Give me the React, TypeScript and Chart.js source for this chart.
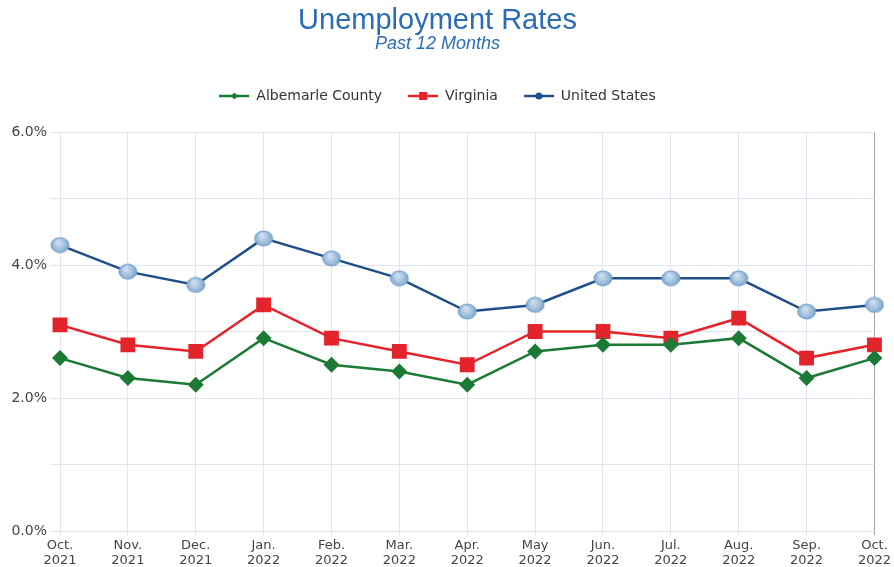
import React, { useEffect, useRef } from 'react';
import { Chart, registerables } from 'chart.js';

Chart.register(...registerables);

const months: string[][] = [
  ['Oct.', '2021'], ['Nov.', '2021'], ['Dec.', '2021'], ['Jan.', '2022'],
  ['Feb.', '2022'], ['Mar.', '2022'], ['Apr.', '2022'], ['May', '2022'],
  ['Jun.', '2022'], ['Jul.', '2022'], ['Aug.', '2022'], ['Sep.', '2022'],
  ['Oct.', '2022'],
];
const albemarle = [2.6, 2.3, 2.2, 2.9, 2.5, 2.4, 2.2, 2.7, 2.8, 2.8, 2.9, 2.3, 2.6];
const virginia = [3.1, 2.8, 2.7, 3.4, 2.9, 2.7, 2.5, 3.0, 3.0, 2.9, 3.2, 2.6, 2.8];
const unitedStates = [4.3, 3.9, 3.7, 4.4, 4.1, 3.8, 3.3, 3.4, 3.8, 3.8, 3.8, 3.3, 3.4];
const seriesNames = ['Albemarle County', 'Virginia', 'United States'];
const yMin = 0;
const yMax = 6;
const yStep = 1;

const GREEN = '#1b7a35';
const RED = '#e3242b';
const BLUE = '#1f4f8a';
const TITLE_BLUE = '#2a6cb6';
const TEXT = '#444444';
const GRID = '#e3e3f1';

function makeBubble(w: number, h: number): HTMLCanvasElement {
  const c = document.createElement('canvas');
  c.width = w + 2;
  c.height = h + 2;
  const ctx = c.getContext('2d')!;
  const cx = c.width / 2;
  const cy = c.height / 2;
  const g = ctx.createRadialGradient(cx - w * 0.1, cy - h * 0.2, 1, cx, cy, w / 2);
  g.addColorStop(0, '#cfdff0');
  g.addColorStop(0.6, '#9fbfdd');
  g.addColorStop(1, '#7aa3ca');
  ctx.beginPath();
  ctx.ellipse(cx, cy, w / 2, h / 2, 0, 0, Math.PI * 2);
  ctx.fillStyle = g;
  ctx.fill();
  ctx.lineWidth = 1;
  ctx.strokeStyle = '#729fc8';
  ctx.stroke();
  return c;
}

function makeLegendIcon(color: string, kind: string): HTMLCanvasElement {
  const c = document.createElement('canvas');
  c.width = 30;
  c.height = 12;
  const ctx = c.getContext('2d')!;
  ctx.strokeStyle = color;
  ctx.lineWidth = 2.5;
  ctx.beginPath();
  ctx.moveTo(0, 6);
  ctx.lineTo(30, 6);
  ctx.stroke();
  ctx.fillStyle = color;
  ctx.beginPath();
  if (kind === 'diamond') {
    ctx.moveTo(15, 2.5);
    ctx.lineTo(18.5, 6);
    ctx.lineTo(15, 9.5);
    ctx.lineTo(11.5, 6);
    ctx.closePath();
  } else if (kind === 'square') {
    ctx.rect(11, 2, 8, 8);
  } else {
    ctx.arc(15, 6, 3.5, 0, Math.PI * 2);
  }
  ctx.fill();
  return c;
}

export default function App() {
  const ref = useRef<HTMLCanvasElement | null>(null);

  useEffect(() => {
    if (!ref.current) return;
    const bubble = makeBubble(18, 15);
    const icons = [
      makeLegendIcon(GREEN, 'diamond'),
      makeLegendIcon(RED, 'square'),
      makeLegendIcon(BLUE, 'circle'),
    ];
    const colors = [GREEN, RED, BLUE];
    const chart = new Chart(ref.current, {
      type: 'line',
      data: {
        labels: months,
        datasets: [
          {
            label: seriesNames[0],
            data: albemarle,
            borderColor: GREEN,
            backgroundColor: GREEN,
            borderWidth: 2.5,
            pointStyle: 'rectRot',
            pointRadius: 8,
            pointBorderWidth: 0,
            pointBackgroundColor: GREEN,
            tension: 0,
          },
          {
            label: seriesNames[1],
            data: virginia,
            borderColor: RED,
            backgroundColor: RED,
            borderWidth: 2.5,
            pointStyle: 'rect',
            pointRadius: 10.5,
            pointBorderWidth: 0,
            pointBackgroundColor: RED,
            tension: 0,
          },
          {
            label: seriesNames[2],
            data: unitedStates,
            borderColor: BLUE,
            backgroundColor: BLUE,
            borderWidth: 2.5,
            pointStyle: bubble as any,
            pointRadius: 9,
            tension: 0,
          },
        ],
      },
      options: {
        responsive: false,
        animation: false,
        layout: { padding: { left: 0, right: 19, top: 0, bottom: 0 } },
        plugins: {
          title: {
            display: true,
            text: 'Unemployment Rates',
            color: TITLE_BLUE,
            font: { family: '"Liberation Sans", Arial, sans-serif', size: 29, weight: 'normal', lineHeight: 1.0 },
            padding: { top: 6, bottom: 0 },
          },
          subtitle: {
            display: true,
            text: 'Past 12 Months',
            color: TITLE_BLUE,
            font: { family: '"Liberation Sans", Arial, sans-serif', size: 18, style: 'italic', weight: 'normal', lineHeight: 1.0 },
            padding: { top: 0, bottom: 10 },
          },
          legend: {
            display: true,
            labels: {
              color: '#333333',
              font: { family: '"DejaVu Sans", Verdana, sans-serif', size: 14 },
              usePointStyle: true,
              pointStyleWidth: 30,
              boxHeight: 12,
              padding: 26,
              generateLabels: () =>
                seriesNames.map((name, i) => ({
                  text: name,
                  fillStyle: colors[i],
                  strokeStyle: colors[i],
                  lineWidth: 0,
                  pointStyle: icons[i] as any,
                  hidden: false,
                  datasetIndex: i,
                  fontColor: '#333333',
                })),
            },
          },
          tooltip: { enabled: false },
        },
        scales: {
          x: {
            offset: false,
            grid: {
              color: (ctx: any) => (ctx.index === months.length - 1 ? '#a3a3ad' : GRID),
              lineWidth: 1,
              tickLength: 4,
              drawTicks: true,
            },
            border: { display: false },
            ticks: {
              color: TEXT,
              font: { family: '"DejaVu Sans", Verdana, sans-serif', size: 13, lineHeight: 1.15 },
              padding: 3,
              maxRotation: 0,
              autoSkip: false,
            },
            afterFit: (scale: any) => {
              scale.height = 36;
            },
          },
          spacer: {
            type: 'category',
            position: 'top',
            display: true,
            grid: { display: false, drawTicks: false },
            border: { display: false },
            ticks: { display: false },
            afterFit: (scale: any) => {
              scale.height = 19;
            },
          },
          y: {
            min: yMin,
            max: yMax,
            grid: { color: GRID, lineWidth: 1, tickLength: 10 },
            border: { display: true, color: GRID },
            ticks: {
              stepSize: yStep,
              color: TEXT,
              font: { family: '"DejaVu Sans", Verdana, sans-serif', size: 14 },
              padding: 3,
              callback: (v: any) => (Number(v) % 2 === 0 ? Number(v).toFixed(1) + '%' : ''),
            },
            afterFit: (scale: any) => {
              scale.width = 60;
            },
          },
        },
      } as any,
    });
    return () => chart.destroy();
  }, []);

  return (
    <div style={{ position: 'absolute', left: 0, top: 0, width: 894, height: 567, background: '#ffffff' }}>
      <canvas ref={ref} width={894} height={567} />
    </div>
  );
}
